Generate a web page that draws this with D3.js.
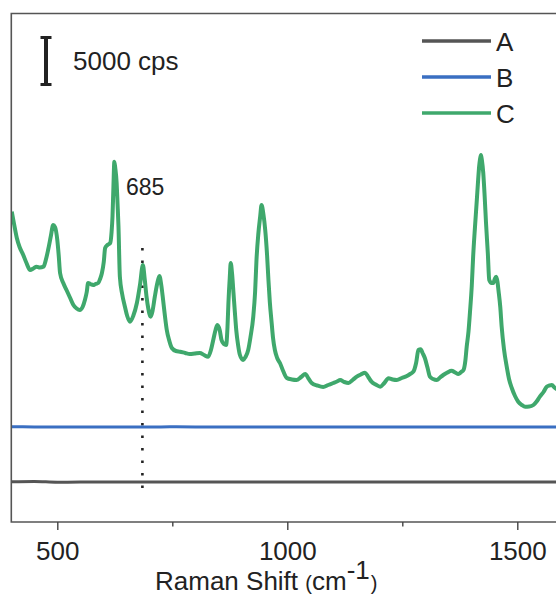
<!DOCTYPE html>
<html><head><meta charset="utf-8">
<script src="https://cdn.jsdelivr.net/npm/d3@7"></script>
<style>
html,body{margin:0;padding:0;background:#fff;overflow:hidden;}
svg{display:block;font-family:"Liberation Sans",Arial,sans-serif;}
</style></head>
<body>
<svg id="chart" width="556" height="607"></svg>
<script>
// Raman shift (cm-1) and intensity (cps)
const waveC = [401,406,412,418,426,433,441,448,455,462,470,475,480,486,491,495,500,503,506,513,520,528,535,542,549,555,560,564,567,572,578,583,589,593,597,601,604,609,615,618,620,622,624,626,629,631,633,636,641,647,652,658,665,673,680,686,690,694,698,703,707,712,717,722,726,730,734,738,743,749,758,767,778,788,799,810,819,828,834,839,844,848,853,857,862,867,870,872,875,877,880,883,886,889,893,897,904,909,915,920,926,930,933,937,941,944,948,952,956,959,962,966,969,973,978,984,991,999,1010,1020,1030,1039,1046,1053,1065,1078,1089,1100,1108,1115,1124,1133,1142,1151,1160,1169,1176,1183,1192,1202,1211,1220,1229,1238,1249,1260,1267,1274,1280,1285,1290,1294,1299,1305,1310,1317,1325,1332,1339,1348,1357,1365,1372,1378,1383,1387,1390,1394,1397,1401,1404,1408,1412,1415,1417,1419,1421,1423,1426,1429,1432,1436,1439,1444,1448,1451,1454,1457,1459,1463,1466,1471,1477,1482,1488,1495,1502,1510,1517,1526,1535,1542,1549,1557,1564,1570,1575,1582,1590];
const intC  = [31030,29800,28400,27500,26700,25900,25200,25350,25530,25450,25530,26200,27200,28600,29700,29500,28200,26700,24900,23900,23200,22400,21700,21350,21200,21500,22200,23000,23900,23800,23700,23800,23900,24300,24900,26000,27400,27700,27900,29000,30530,33500,36030,35400,33900,31800,29530,24530,22800,21530,20600,20030,20600,21900,23800,25700,24300,22530,21300,20530,21100,22530,23800,24600,23700,22200,20600,19200,18200,17400,17100,17030,16900,16800,16850,16900,16700,16530,17200,18200,19200,19700,19200,18200,17800,17700,19500,21900,24500,25900,24800,22900,21000,19200,17700,16700,16200,16500,17200,18500,20530,23000,26200,28800,30530,31700,30800,29200,26700,24200,22000,19900,18400,17200,16400,15900,15100,14400,14250,14200,14500,14800,14350,13900,13650,13500,13700,13900,14050,14200,14000,13900,14200,14530,14750,14930,14500,14030,13750,13530,13900,14370,14250,14200,14400,14600,14800,15030,15900,17200,17270,16900,16400,15400,14530,14300,14200,14450,14700,14950,15130,14950,14800,15000,15200,16100,17530,19100,20900,23600,26530,29500,32200,34300,35530,36300,36700,36200,34900,32600,29900,26800,24200,23900,23900,24300,24530,24000,23200,21500,19530,17300,15530,14300,13400,12600,12030,11700,11530,11550,11700,12050,12530,13000,13530,13650,13700,13400,13200];
const waveAB = [400,450,500,550,600,650,700,750,800,850,900,950,1000,1050,1100,1150,1200,1250,1300,1350,1400,1450,1500,1550,1600];
const intA  = [4020,4060,3980,3990,4000,3990,4010,3990,4000,3990,4010,4000,3990,4000,3990,4000,4010,3990,4000,3990,4000,3990,4000,3990,4000];
const intB  = [9520,9510,9500,9490,9500,9510,9500,9520,9500,9490,9500,9510,9500,9490,9500,9510,9500,9500,9490,9500,9510,9500,9490,9500,9500];
const seriesNames = ["A","B","C"];
const seriesColors = ["#555555","#3a6fc2","#3fa86c"];
const xTicks = [500,1000,1500];
const xMinorTicks = [750,1250];
const markerWave = 685;
const scaleBarCps = 5000;

const svg = d3.select("#chart");
const L = 11.3, T = 13.5, B = 522;
const x = d3.scaleLinear().domain([400,1600]).range([L, L + 1200*0.46]);
const y = d3.scaleLinear().domain([0, 50850]).range([B, T]);
const line = d3.line().x(d=>x(d[0])).y(d=>y(d[1])).curve(d3.curveMonotoneX);

const defs = svg.append("defs");
defs.append("clipPath").attr("id","clip").append("rect")
  .attr("x",L).attr("y",T).attr("width",600).attr("height",B-T);

// dotted marker
svg.append("line").attr("x1",x(markerWave)).attr("x2",x(markerWave))
  .attr("y1",248).attr("y2",492).attr("stroke","#222").attr("stroke-width",2.6)
  .attr("stroke-dasharray","2.6 9.9");

const g = svg.append("g").attr("clip-path","url(#clip)");
const data = [d3.zip(waveAB,intA), d3.zip(waveAB,intB), d3.zip(waveC,intC)];
data.forEach((d,i)=>{
  g.append("path").datum(d).attr("d",line).attr("fill","none")
   .attr("stroke",seriesColors[i]).attr("stroke-width", i===2?4:3)
   .attr("stroke-linejoin","round");
});

// frame
svg.append("path").attr("d",`M${x.range()[1]},${T}H${L}V${B}H${x.range()[1]}`)
  .attr("fill","none").attr("stroke","#555").attr("stroke-width",1.6);

// x axis
const ax = svg.append("g").attr("transform",`translate(0,${B})`)
  .call(d3.axisBottom(x).tickValues(xTicks).tickSize(8).tickFormat(d3.format("d")));
ax.select(".domain").remove();
ax.selectAll(".tick line").attr("stroke","#444").attr("stroke-width",1.4);
ax.selectAll(".tick text").attr("font-size",26).attr("fill","#222")
  .attr("font-family","Liberation Sans, Arial, sans-serif").attr("dy",0).attr("y",38);
const axm = svg.append("g").attr("transform",`translate(0,${B})`)
  .call(d3.axisBottom(x).tickValues(xMinorTicks).tickSize(4.5).tickFormat(""));
axm.select(".domain").remove();
axm.selectAll(".tick line").attr("stroke","#444").attr("stroke-width",1.4);

// axis title
const title = svg.append("text").attr("x",155).attr("y",590).attr("fill","#222");
title.append("tspan").attr("font-size",26).text("Raman Shift ");
title.append("tspan").attr("font-size",20).text("(");
title.append("tspan").attr("font-size",26).text("cm");
title.append("tspan").attr("font-size",26).attr("dy",-11).text("-1");
title.append("tspan").attr("font-size",20).attr("dy",11).attr("dx",1).text(")");

// scale bar
const sbX = 46, sbTop = 36, sbBot = sbTop + (y(0)-y(scaleBarCps));
svg.append("line").attr("x1",sbX).attr("x2",sbX).attr("y1",sbTop).attr("y2",sbBot)
  .attr("stroke","#222").attr("stroke-width",4);
[sbTop+1.5, sbBot-1.5].forEach(yy=>svg.append("line").attr("x1",sbX-5.5).attr("x2",sbX+5.5)
  .attr("y1",yy).attr("y2",yy).attr("stroke","#222").attr("stroke-width",3));
svg.append("text").attr("x",73).attr("y",70).attr("font-size",26).attr("fill","#222").text(scaleBarCps+" cps");

// marker label
svg.append("text").attr("x",126).attr("y",195).attr("font-size",23).attr("fill","#222").text(String(markerWave));

// legend
const legY = [41,77,113];
seriesNames.forEach((n,i)=>{
  svg.append("line").attr("x1",422).attr("x2",491).attr("y1",legY[i]).attr("y2",legY[i])
    .attr("stroke",seriesColors[i]).attr("stroke-width",3.5);
  svg.append("text").attr("x",496).attr("y",legY[i]+9.5).attr("font-size",26).attr("fill","#222").text(n);
});
</script>
</body></html>
